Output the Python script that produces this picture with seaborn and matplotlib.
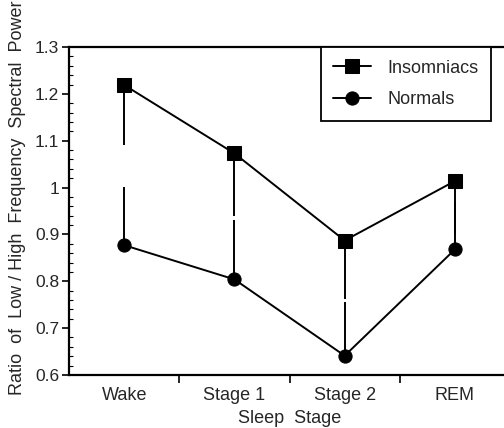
import matplotlib
matplotlib.use("Agg")
import matplotlib.pyplot as plt
from matplotlib.ticker import MultipleLocator, FixedLocator, FuncFormatter
import seaborn as sns
import pandas as pd
import numpy as np

stages = ["Wake", "Stage 1", "Stage 2", "REM"]
insomniacs = [1.219, 1.073, 0.887, 1.014]
normals = [0.877, 0.804, 0.641, 0.868]
# one-sided error bar ends (Insomniacs downward, Normals upward)
insomniacs_err_low = [1.091, 0.940, 0.762, 0.903]
normals_err_high = [1.002, 0.931, 0.756, 0.970]

sns.set_style("ticks")
plt.rcParams["font.family"] = ["Liberation Sans", "DejaVu Sans"]

df = pd.DataFrame({
    "pos": list(range(len(stages))) * 2,
    "value": insomniacs + normals,
    "group": ["Insomniacs"] * len(stages) + ["Normals"] * len(stages),
})

fig = plt.figure(figsize=(5.04, 4.28), dpi=100)
ax = fig.add_axes([0.137, 0.124, 0.875, 0.766])

pos = np.arange(len(stages))
ax.vlines(pos, insomniacs_err_low, insomniacs, color="black", lw=1.4, zorder=2)
ax.vlines(pos, normals, normals_err_high, color="black", lw=1.4, zorder=2)

sns.lineplot(data=df, x="pos", y="value", hue="group", style="group",
             markers={"Insomniacs": "s", "Normals": "o"}, dashes=False,
             palette={"Insomniacs": "black", "Normals": "black"},
             markersize=9.5, linewidth=1.4, markeredgecolor="black",
             ax=ax, zorder=3)

ax.set_xlim(-0.5, 3.5)
ax.set_ylim(0.6, 1.3)
ax.xaxis.set_major_locator(FixedLocator(pos))
ax.set_xticklabels(stages, fontsize=13)
ax.xaxis.set_minor_locator(FixedLocator(pos[:-1] + 0.5))
ax.tick_params(axis="x", which="major", length=0, pad=9)
ax.tick_params(axis="x", which="minor", direction="out", length=6, width=1.2, color="black")

ax.yaxis.set_major_locator(MultipleLocator(0.1))
ax.yaxis.set_minor_locator(MultipleLocator(0.02))
ax.yaxis.set_major_formatter(FuncFormatter(lambda v, p: f"{v:g}"))
ax.tick_params(axis="y", which="major", direction="out", length=5, width=1.2,
               labelsize=12.5, color="black", pad=2)
ax.tick_params(axis="y", which="minor", direction="in", length=3, width=0.8, color="black")

for s in ["left", "bottom", "top"]:
    ax.spines[s].set_linewidth(1.6)
    ax.spines[s].set_color("black")
ax.spines["right"].set_visible(False)

ax.set_xlabel("Sleep  Stage", fontsize=13, labelpad=4)
ax.set_ylabel("Ratio  of  Low / High  Frequency  Spectral  Power", fontsize=13)
ax.yaxis.set_label_coords(-0.098, 0.54)

leg = ax.legend(loc="upper right", bbox_to_anchor=(0.957, 1.0), borderaxespad=0,
                frameon=True, fancybox=False, framealpha=1, edgecolor="black",
                fontsize=13, handlelength=2.1, handletextpad=0.9,
                borderpad=0.7, labelspacing=0.8, title=None)
leg.get_frame().set_linewidth(1.3)

fig.savefig("out.png", dpi=100)
